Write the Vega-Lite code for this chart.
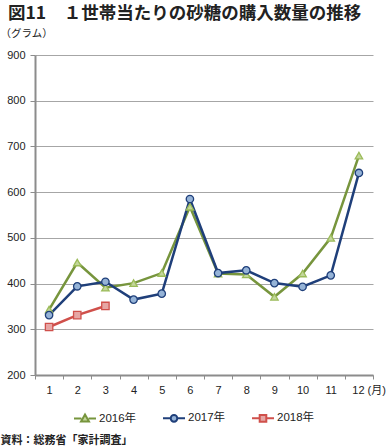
{
  "$schema": "https://vega.github.io/schema/vega-lite/v6.json",
  "autosize": "none",
  "width": 338,
  "height": 320,
  "padding": {"left": 35, "top": 55, "right": 15, "bottom": 73},
  "background": "white",
  "title": {
    "text": "図11　１世帯当たりの砂糖の購入数量の推移",
    "anchor": "start",
    "frame": "group",
    "dx": -27,
    "offset": 6,
    "font": "Noto Sans CJK JP",
    "fontSize": 17.5,
    "fontWeight": "bold",
    "color": "#222222"
  },
  "config": {
    "view": {"stroke": null},
    "font": "Liberation Sans, Noto Sans CJK JP"
  },
  "data": {
    "values": [
      {"month": 1, "series": "2016年", "value": 343},
      {"month": 2, "series": "2016年", "value": 446},
      {"month": 3, "series": "2016年", "value": 391},
      {"month": 4, "series": "2016年", "value": 401},
      {"month": 5, "series": "2016年", "value": 423},
      {"month": 6, "series": "2016年", "value": 568},
      {"month": 7, "series": "2016年", "value": 422},
      {"month": 8, "series": "2016年", "value": 420},
      {"month": 9, "series": "2016年", "value": 371},
      {"month": 10, "series": "2016年", "value": 422},
      {"month": 11, "series": "2016年", "value": 500},
      {"month": 12, "series": "2016年", "value": 680},
      {"month": 1, "series": "2017年", "value": 331},
      {"month": 2, "series": "2017年", "value": 394},
      {"month": 3, "series": "2017年", "value": 404},
      {"month": 4, "series": "2017年", "value": 365},
      {"month": 5, "series": "2017年", "value": 378},
      {"month": 6, "series": "2017年", "value": 585},
      {"month": 7, "series": "2017年", "value": 423},
      {"month": 8, "series": "2017年", "value": 429},
      {"month": 9, "series": "2017年", "value": 401},
      {"month": 10, "series": "2017年", "value": 393},
      {"month": 11, "series": "2017年", "value": 418},
      {"month": 12, "series": "2017年", "value": 642},
      {"month": 1, "series": "2018年", "value": 305},
      {"month": 2, "series": "2018年", "value": 331},
      {"month": 3, "series": "2018年", "value": 351}
    ]
  },
  "encoding": {
    "x": {
      "field": "month",
      "type": "quantitative",
      "scale": {"domain": [0.5, 12.5], "nice": false, "zero": false},
      "axis": {
        "values": [0.5, 1.5, 2.5, 3.5, 4.5, 5.5, 6.5, 7.5, 8.5, 9.5, 10.5, 11.5, 12.5],
        "labelExpr": "datum.value === 11.5 ? '12 (月)' : (datum.value > 12 ? '' : format(datum.value + 0.5, 'd'))",
        "labelOffset": {"condition": {"test": "datum.value === 11.5", "value": 7}, "value": 14.1},
        "labelAlign": {"condition": {"test": "datum.value === 11.5", "value": "left"}, "value": "center"},
        "labelFlush": false,
        "labelOverlap": false,
        "labelFontSize": 11,
        "labelColor": "#222222",
        "labelPadding": 5,
        "grid": false,
        "domainColor": "#8c8c8c",
        "domainWidth": 2,
        "tickColor": "#8c8c8c",
        "tickSize": 4,
        "tickWidth": 1,
        "title": "資料：総務省「家計調査」",
        "titleFont": "Noto Sans CJK JP",
        "titleFontSize": 11,
        "titleFontWeight": "bold",
        "titleColor": "#222222",
        "titleAlign": "left",
        "titleBaseline": "middle",
        "titleX": -35,
        "titleY": 65
      }
    },
    "y": {
      "field": "value",
      "type": "quantitative",
      "scale": {"domain": [200, 900], "nice": false, "zero": false},
      "axis": {
        "values": [200, 300, 400, 500, 600, 700, 800, 900],
        "labelFontSize": 11,
        "labelColor": "#222222",
        "labelPadding": 5,
        "grid": true,
        "gridColor": "#a6a6a6",
        "gridWidth": 1,
        "domainColor": "#8c8c8c",
        "domainWidth": 2,
        "tickColor": "#8c8c8c",
        "tickSize": 5,
        "title": "（グラム）",
        "titleFont": "Noto Sans CJK JP",
        "titleFontSize": 10.5,
        "titleFontWeight": "normal",
        "titleColor": "#222222",
        "titleAngle": 0,
        "titleAlign": "left",
        "titleBaseline": "middle",
        "titleX": -35,
        "titleY": -22
      }
    }
  },
  "layer": [
    {
      "mark": {"type": "line", "strokeWidth": 2.5},
      "encoding": {
        "stroke": {
          "field": "series",
          "type": "nominal",
          "scale": {"domain": ["2016年", "2017年", "2018年"], "range": ["#77953d", "#1f3f7a", "#d0504b"]},
          "legend": {
            "orient": "none",
            "legendX": 38,
            "legendY": 351,
            "direction": "horizontal",
            "columns": 3,
            "title": null,
            "columnPadding": 22,
            "symbolSize": 484,
            "labelOffset": 2,
            "labelFontSize": 11.5,
            "labelColor": "#222222",
            "labelFont": "Liberation Sans, Noto Sans CJK JP",
            "encode": {
              "symbols": {
                "update": {
                  "shape": {"signal": "datum.value === '2016年' ? 'M-1,0H-0.33M0.33,0H1M0,-0.36L0.36,0.27H-0.36Z' : (datum.value === '2017年' ? 'M-1,0H-0.3M0.3,0H1M0.3,0A0.3,0.3 0 1,1 -0.3,0A0.3,0.3 0 1,1 0.3,0Z' : 'M-1,0H-0.3M0.3,0H1M-0.3,-0.3H0.3V0.3H-0.3Z')"},
                  "fill": {"signal": "datum.value === '2016年' ? '#c3d69b' : (datum.value === '2017年' ? '#95b3d7' : '#e6a6a4')"},
                  "stroke": {"signal": "datum.value === '2016年' ? '#77953d' : (datum.value === '2017年' ? '#1f3f7a' : '#d0504b')"},
                  "strokeWidth": {"value": 2},
                  "opacity": {"value": 1}
                }
              }
            }
          }
        }
      }
    },
    {
      "mark": {"type": "point", "filled": false, "strokeWidth": 1.3, "opacity": 1, "size": 55},
      "encoding": {
        "shape": {
          "field": "series",
          "type": "nominal",
          "scale": {"domain": ["2016年", "2017年", "2018年"], "range": ["triangle-up", "circle", "square"]},
          "legend": null
        },
        "fill": {
          "field": "series",
          "type": "nominal",
          "scale": {"domain": ["2016年", "2017年", "2018年"], "range": ["#c3d69b", "#95b3d7", "#e6a6a4"]},
          "legend": null
        },
        "stroke": {
          "field": "series",
          "type": "nominal",
          "scale": {"domain": ["2016年", "2017年", "2018年"], "range": ["#9bbb59", "#1f3f7a", "#d0504b"]},
          "legend": null
        }
      }
    }
  ],
  "resolve": {"scale": {"stroke": "independent"}}
}
